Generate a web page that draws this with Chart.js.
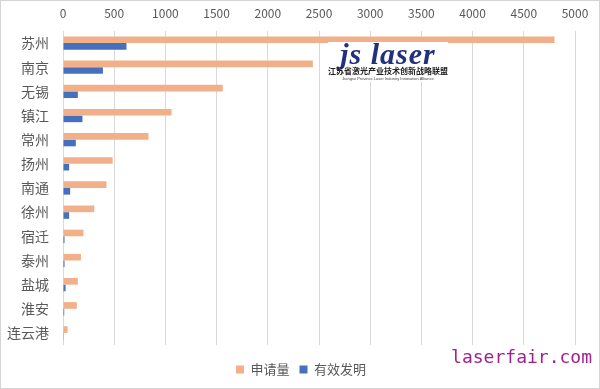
<!DOCTYPE html>
<html>
<head>
<meta charset="utf-8">
<script src="https://cdn.jsdelivr.net/npm/chart.js@4.4.0/dist/chart.umd.min.js"></script>
<style>
  body { margin: 0; background: #fff; }
  .frame {
    position: relative;
    width: 600px;
    height: 389px;
    box-sizing: border-box;
    border: 1px solid #d4d4d4;
    overflow: hidden;
  }
  .logo {
    position: absolute;
    left: 327px;
    top: 41px;
    width: 120px;
    height: 40px;
    background: #fff;
    text-align: center;
  }
  .logo .big {
    font-family: "Liberation Serif", serif;
    font-weight: bold;
    font-style: italic;
    font-size: 30px;
    line-height: 24px;
    color: #22307e;
    letter-spacing: 1px;
  }
  .logo .cn {
    font-family: "Noto Sans CJK SC", sans-serif;
    font-weight: bold;
    font-size: 8px;
    line-height: 10px;
    color: #222;
    white-space: nowrap;
  }
  .logo .en {
    font-family: "Liberation Sans", sans-serif;
    font-size: 4px;
    line-height: 5px;
    color: #444;
    white-space: nowrap;
  }
  .mark {
    position: absolute;
    right: 7px;
    top: 345px;
    font-family: "DejaVu Sans Mono", monospace;
    font-size: 18px;
    color: #a0208f;
  }
</style>
</head>
<body>
<div class="frame">
  <canvas id="chart" width="598" height="387"></canvas>
  <div class="logo">
    <div class="big">js laser</div>
    <div class="cn">江苏省激光产业技术创新战略联盟</div>
    <div class="en">Jiangsu Province Laser Industry Innovation Alliance</div>
  </div>
  <div class="mark">laserfair.com</div>
</div>
<script>
const cities = ["苏州", "南京", "无锡", "镇江", "常州", "扬州", "南通", "徐州", "宿迁", "泰州", "盐城", "淮安", "连云港"];
const applications = [4800, 2440, 1560, 1060, 835, 485, 425, 305, 200, 175, 145, 135, 45];
const validInventions = [620, 390, 145, 190, 125, 60, 70, 60, 15, 15, 25, 12, 3];
const xTicks = [0, 500, 1000, 1500, 2000, 2500, 3000, 3500, 4000, 4500, 5000];

const textColor = "#595959";
const cjkFont = '"Noto Sans CJK SC", "Noto Sans", sans-serif';

// legend sits a little right of centre and lower in the original
const shiftLegend = {
  id: "shiftLegend",
  afterLayout(chart) {
    const lg = chart.legend;
    lg.left += 13;
    lg.right += 13;
    lg.top += 8;
    lg.bottom += 8;
  },
};

new Chart(document.getElementById("chart"), {
  type: "bar",
  data: {
    labels: cities,
    datasets: [
      {
        label: "申请量",
        data: applications,
        backgroundColor: "#f1b08a",
        categoryPercentage: 0.55,
        barPercentage: 1,
      },
      {
        label: "有效发明",
        data: validInventions,
        backgroundColor: "#4570be",
        categoryPercentage: 0.55,
        barPercentage: 1,
      },
    ],
  },
  plugins: [shiftLegend],
  options: {
    indexAxis: "y",
    responsive: false,
    animation: false,
    layout: { padding: { top: 0, right: 24, bottom: 10, left: 0 } },
    scales: {
      x: {
        position: "top",
        min: 0,
        max: 5000,
        afterBuildTicks: (scale) => {
          scale.ticks = xTicks.map((v) => ({ value: v }));
        },
        afterFit: (scale) => {
          scale.height = 30;
        },
        grid: { color: "#d9d9d9", drawTicks: false },
        border: { display: false },
        ticks: {
          color: textColor,
          font: { family: cjkFont, size: 12 },
          padding: 10,
          callback: (v) => String(v),
        },
      },
      y: {
        afterFit: (scale) => {
          scale.width = 62;
        },
        grid: { display: false, drawTicks: false },
        border: { display: false },
        ticks: {
          color: textColor,
          font: { family: cjkFont, size: 14 },
          padding: 14,
        },
      },
    },
    plugins: {
      legend: {
        position: "bottom",
        labels: {
          color: textColor,
          font: { family: cjkFont, size: 13 },
          boxWidth: 8,
          boxHeight: 8,
          padding: 10,
        },
      },
      tooltip: { enabled: false },
    },
  },
});
</script>
</body>
</html>
